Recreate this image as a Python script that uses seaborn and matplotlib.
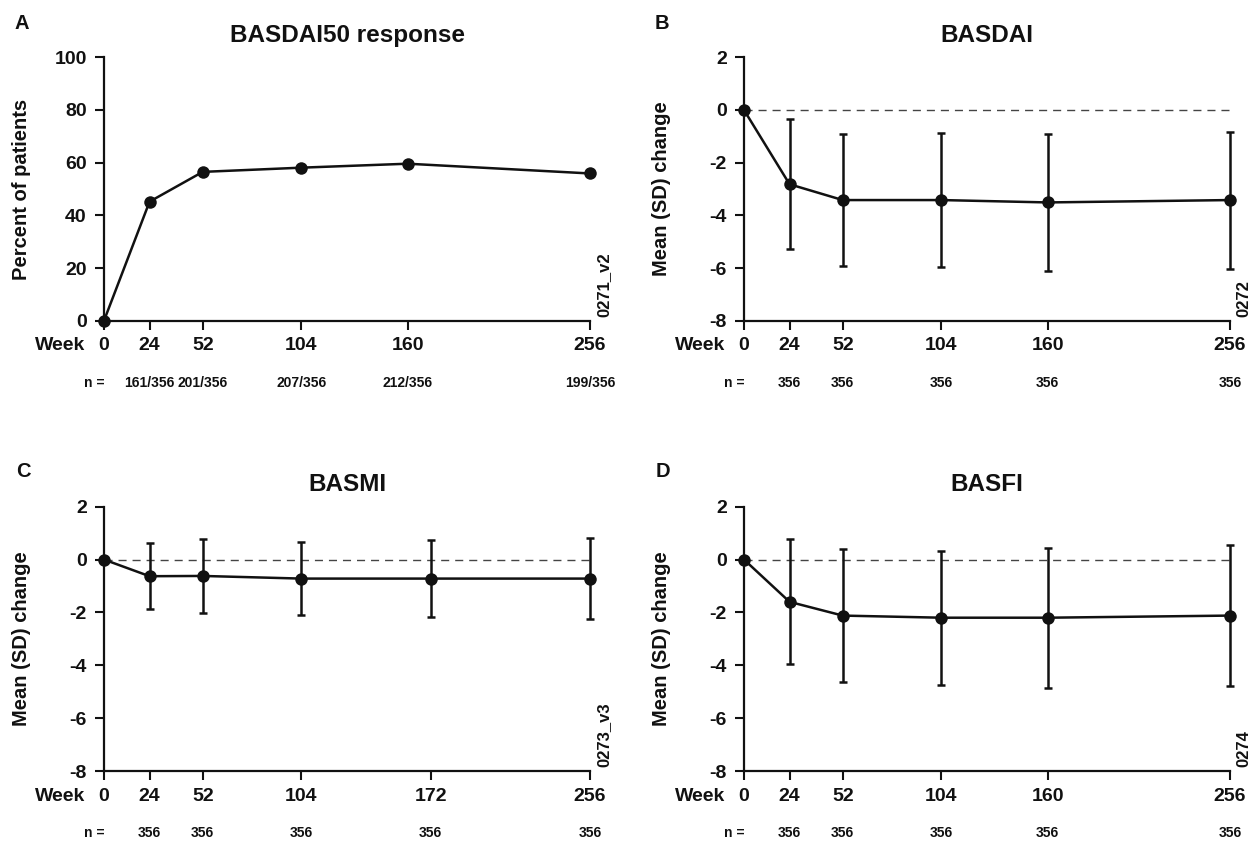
import matplotlib
matplotlib.use("Agg")
import matplotlib.pyplot as plt
from matplotlib import font_manager
import seaborn as sns

# ---------------------------------------------------------------
# Data
# ---------------------------------------------------------------
weeks_a = [0, 24, 52, 104, 160, 256]
pct_a = [0, 45.2, 56.5, 58.1, 59.6, 55.9]
n_a = ["161/356", "201/356", "207/356", "212/356", "199/356"]

weeks_b = [0, 24, 52, 104, 160, 256]
mean_b = [0, -2.82, -3.42, -3.42, -3.51, -3.42]
sd_b = [0, 2.47, 2.51, 2.56, 2.59, 2.60]

weeks_c = [0, 24, 52, 104, 172, 256]
mean_c = [0, -0.63, -0.62, -0.72, -0.72, -0.72]
sd_c = [0, 1.24, 1.41, 1.37, 1.45, 1.53]

weeks_d = [0, 24, 52, 104, 160, 256]
mean_d = [0, -1.60, -2.12, -2.20, -2.20, -2.12]
sd_d = [0, 2.37, 2.52, 2.54, 2.65, 2.66]

n_all = ["356"] * 5

sns.set_style("ticks")
plt.rcParams["font.family"] = ["Liberation Sans", "DejaVu Sans"]
plt.rcParams["axes.unicode_minus"] = False
names = {f.name for f in font_manager.fontManager.ttflist}
if "Liberation Sans Narrow" in names:
    N_FONT = dict(family=["Liberation Sans Narrow", "DejaVu Sans"], size=12, weight="bold")
else:
    N_FONT = dict(size=10, weight="bold")

INK = "#111111"
PX = 72 / 100  # points per pixel at dpi=100

fig = plt.figure(figsize=(12.55, 8.43), dpi=100)

positions = {
    "A": [104 / 1255, 1 - 320.7 / 843, 486 / 1255, 263.4 / 843],
    "B": [744 / 1255, 1 - 320.7 / 843, 486 / 1255, 263.4 / 843],
    "C": [104 / 1255, 1 - 771 / 843, 486 / 1255, 264.3 / 843],
    "D": [744 / 1255, 1 - 771 / 843, 486 / 1255, 264.3 / 843],
}


def style_axes(ax, weeks, ylim, yticks, ylabel, title, nlabels, code):
    ax.set_xlim(0, 256)
    ax.set_ylim(*ylim)
    ax.set_yticks(yticks)
    ax.set_xticks(weeks)
    ax.set_xticklabels([str(w) for w in weeks])
    sns.despine(ax=ax)
    for s in ["left", "bottom"]:
        ax.spines[s].set_linewidth(1.6)
        ax.spines[s].set_color(INK)
    ax.tick_params(axis="both", direction="out", length=6.5, width=1.5,
                   colors=INK, labelsize=14)
    ax.tick_params(axis="x", pad=5.5)
    ax.tick_params(axis="y", pad=6)
    for lab in ax.get_xticklabels() + ax.get_yticklabels():
        lab.set_fontweight("bold")
    ax.set_ylabel(ylabel, fontsize=14.5, fontweight="bold", color=INK)
    ax.yaxis.set_label_coords(-0.15, 0.5)
    ax.set_title(title, fontsize=17.5, fontweight="bold", pad=11, color=INK)

    ax.annotate("Week", xy=(0, 0), xycoords="axes fraction",
                xytext=(-13.7, -12), textcoords="offset points",
                ha="right", va="top", fontsize=14, fontweight="bold", color=INK)
    ax.annotate("n =", xy=(0, 0), xycoords=("data", "axes fraction"),
                xytext=(-10 * PX, -62 * PX), textcoords="offset points",
                ha="center", va="center", color=INK, **N_FONT)
    for w, lab in zip(weeks[1:], nlabels):
        ax.annotate(lab, xy=(w, 0), xycoords=("data", "axes fraction"),
                    xytext=(0, -62 * PX), textcoords="offset points",
                    ha="center", va="center", color=INK, **N_FONT)
    ax.annotate(code, xy=(1, 0), xycoords="axes fraction",
                xytext=(6 * PX, 4 * PX), textcoords="offset points",
                rotation=90, ha="left", va="bottom", fontsize=12,
                fontweight="bold", color=INK)


def draw_series(ax, weeks, vals, sd=None):
    if sd is not None:
        ax.axhline(0, color="#444444", lw=1.0, ls=(0, (5.8, 4.3)), zorder=1)
        eb = ax.errorbar(weeks[1:], vals[1:], yerr=sd[1:], fmt="none",
                         ecolor=INK, elinewidth=1.8, capsize=3.0, capthick=1.8,
                         zorder=2)
        for child in eb.get_children():
            child.set_clip_on(False)
    sns.lineplot(x=weeks, y=vals, ax=ax, color=INK, lw=1.8, marker="o",
                 markersize=9, markeredgewidth=0, clip_on=False, zorder=3)


ax_a = fig.add_axes(positions["A"])
draw_series(ax_a, weeks_a, pct_a)
style_axes(ax_a, weeks_a, (0, 100), [0, 20, 40, 60, 80, 100],
           "Percent of patients", "BASDAI50 response", n_a, "0271_v2")

ax_b = fig.add_axes(positions["B"])
draw_series(ax_b, weeks_b, mean_b, sd_b)
style_axes(ax_b, weeks_b, (-8, 2), [-8, -6, -4, -2, 0, 2],
           "Mean (SD) change", "BASDAI", n_all, "0272")

ax_c = fig.add_axes(positions["C"])
draw_series(ax_c, weeks_c, mean_c, sd_c)
style_axes(ax_c, weeks_c, (-8, 2), [-8, -6, -4, -2, 0, 2],
           "Mean (SD) change", "BASMI", n_all, "0273_v3")

ax_d = fig.add_axes(positions["D"])
draw_series(ax_d, weeks_d, mean_d, sd_d)
style_axes(ax_d, weeks_d, (-8, 2), [-8, -6, -4, -2, 0, 2],
           "Mean (SD) change", "BASFI", n_all, "0274")

# panel letters
for letter, x, y in [("A", 14, 29), ("B", 655, 29), ("C", 16, 477), ("D", 656, 477)]:
    fig.text(x / 1255, 1 - y / 843, letter, fontsize=14.5, fontweight="bold",
             ha="left", va="baseline", color=INK)

fig.savefig("out.png", dpi=100)
